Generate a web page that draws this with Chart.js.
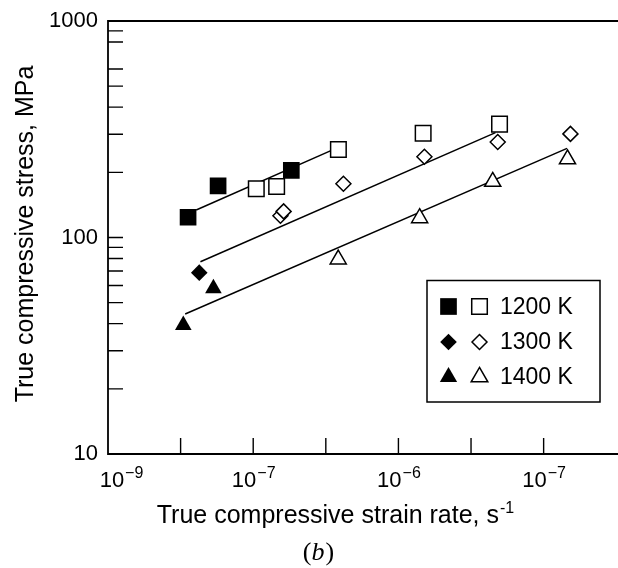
<!DOCTYPE html>
<html>
<head>
<meta charset="utf-8">
<script src="https://cdn.jsdelivr.net/npm/chart.js@4.4.0/dist/chart.umd.min.js"></script>
<style>
  html, body { margin: 0; padding: 0; background: #fff; overflow: hidden; }
  #wrap { width: 640px; height: 568px; }
</style>
</head>
<body>
<div id="wrap"><canvas id="stress-rate" width="640" height="568"></canvas></div>
<script>
// strain rate (s^-1) and stress (MPa) per temperature, filled and open symbols
const filled1200Rate = [3.56e-9, 5.73e-9, 1.83e-8];
const filled1200Stress = [124, 173, 204];
const open1200Rate = [1.05e-8, 1.45e-8, 3.86e-8, 1.48e-7, 4.97e-7];
const open1200Stress = [168, 172, 255, 303, 334];

const filled1300Rate = [4.25e-9];
const filled1300Stress = [68.8];
const open1300Rate = [1.54e-8, 1.62e-8, 4.18e-8, 1.51e-7, 4.83e-7, 1.53e-6];
const open1300Stress = [126, 132, 177, 236, 276, 301];

const filled1400Rate = [3.30e-9, 5.32e-9];
const filled1400Stress = [39.4, 58.2];
const open1400Rate = [3.85e-8, 1.40e-7, 4.46e-7, 1.46e-6];
const open1400Stress = [79.3, 123, 181, 230];

// fitted lines, end points
const fit1200Rate = [4.05e-9, 3.82e-8];
const fit1200Stress = [134, 260];
const fit1300Rate = [4.33e-9, 4.66e-7];
const fit1300Stress = [77.3, 305];
const fit1400Rate = [3.40e-9, 1.45e-6];
const fit1400Stress = [44.3, 258];

const legendLabels = ['1200 K', '1300 K', '1400 K'];

// axis ticks
const yTickValues = [10, 20, 30, 40, 50, 60, 70, 80, 90, 100, 200, 300, 400, 500, 600, 800, 900, 1000];
const yLabelValues = [10, 100, 1000];
const xTickValues = [Math.pow(10, -8.5), 1e-8, Math.pow(10, -7.5), 1e-7, Math.pow(10, -6.5), 1e-6];
const xLabelValues = [1e-9, 1e-8, 1e-7, 1e-6];
const xLabelBase = ['10', '10', '10', '10'];
const xLabelExp = ['\u22129', '\u22127', '\u22126', '\u22127'];

const FONT = '"Liberation Sans", Arial, sans-serif';
Chart.defaults.font.family = FONT;
Chart.defaults.color = '#000';

function pts(xs, ys) {
    return xs.map((x, i) => ({ x: x, y: ys[i] }));
}

function markers(xs, ys, style, radius, open) {
    return {
        data: pts(xs, ys),
        pointStyle: style,
        pointRadius: radius,
        pointHoverRadius: radius,
        pointBackgroundColor: open ? '#fff' : '#000',
        pointBorderColor: '#000',
        pointBorderWidth: open ? 1.5 : 0,
        showLine: false
    };
}

function fitLine(xs, ys) {
    return {
        data: pts(xs, ys),
        showLine: true,
        borderColor: '#000',
        borderWidth: 1.5,
        pointRadius: 0,
        pointHoverRadius: 0,
        fill: false
    };
}

const legendRows = [
    { style: 'rect', filledR: 11.8, openR: 11 },
    { style: 'rectRot', filledR: 8.3, openR: 7.5 },
    { style: 'triangle', filledR: 10, openR: 9.6 }
];

function superText(ctx, base, exp, cx, baseline, size, expSize, rise) {
    ctx.font = size + 'px ' + FONT;
    const wb = ctx.measureText(base).width;
    ctx.font = expSize + 'px ' + FONT;
    const we = ctx.measureText(exp).width;
    const left = cx - (wb + we) / 2;
    ctx.textAlign = 'left';
    ctx.textBaseline = 'alphabetic';
    ctx.font = size + 'px ' + FONT;
    ctx.fillText(base, left, baseline);
    ctx.font = expSize + 'px ' + FONT;
    ctx.fillText(exp, left + wb + 1, baseline - rise);
}

const decorations = {
    id: 'decorations',
    afterDraw(chart) {
        const ctx = chart.ctx;
        const area = chart.chartArea;
        const xs = chart.scales.x;
        const ys = chart.scales.y;
        ctx.save();
        ctx.strokeStyle = '#000';
        ctx.fillStyle = '#000';

        // frame (right side runs off the canvas)
        ctx.lineWidth = 1.8;
        ctx.beginPath();
        ctx.moveTo(chart.width, area.top);
        ctx.lineTo(area.left, area.top);
        ctx.lineTo(area.left, area.bottom);
        ctx.lineTo(chart.width, area.bottom);
        ctx.stroke();

        // inward ticks
        ctx.lineWidth = 1.4;
        ctx.beginPath();
        yTickValues.forEach(v => {
            if (v === 10 || v === 1000) return;
            const y = ys.getPixelForValue(v);
            ctx.moveTo(area.left, y);
            ctx.lineTo(area.left + 15, y);
        });
        xTickValues.forEach(v => {
            const x = xs.getPixelForValue(v);
            ctx.moveTo(x, area.bottom);
            ctx.lineTo(x, area.bottom - 16);
        });
        ctx.stroke();

        // x tick labels with exponents
        xLabelValues.forEach((v, i) => {
            let cx = xs.getPixelForValue(v);
            if (i === 0) cx += 13;
            superText(ctx, xLabelBase[i], xLabelExp[i], cx, area.bottom + 33, 22, 16, 9);
        });

        // axis titles
        superText(ctx, 'True compressive strain rate, s', '-1', 335, 523, 25, 16, 10);
        ctx.save();
        ctx.translate(33, 234);
        ctx.rotate(-Math.PI / 2);
        ctx.font = '25px ' + FONT;
        ctx.textAlign = 'center';
        ctx.textBaseline = 'alphabetic';
        ctx.fillText('True compressive stress, MPa', 0, 0);
        ctx.restore();

        // legend box
        ctx.lineWidth = 1.5;
        ctx.strokeRect(427, 280.5, 173, 121.5);
        const rowY = [306.5, 342, 377];
        legendRows.forEach((row, i) => {
            ctx.fillStyle = '#000';
            ctx.strokeStyle = '#000';
            Chart.helpers.drawPoint(ctx, { pointStyle: row.style, radius: row.filledR, rotation: 0, borderWidth: 0 }, 448.5, rowY[i]);
            ctx.fillStyle = '#fff';
            ctx.lineWidth = 1.5;
            Chart.helpers.drawPoint(ctx, { pointStyle: row.style, radius: row.openR, rotation: 0, borderWidth: 1.5 }, 479.5, rowY[i]);
            ctx.fillStyle = '#000';
            ctx.font = '23px ' + FONT;
            ctx.textAlign = 'left';
            ctx.textBaseline = 'middle';
            ctx.fillText(legendLabels[i], 500, rowY[i] + 1);
        });

        // panel caption "(b)"
        const serif = '"Liberation Serif", "DejaVu Serif", serif';
        const capSize = 26;
        ctx.textBaseline = 'alphabetic';
        ctx.textAlign = 'left';
        ctx.font = capSize + 'px ' + serif;
        const wp = ctx.measureText('(').width;
        ctx.font = 'italic ' + capSize + 'px ' + serif;
        const wbch = ctx.measureText('b').width;
        let cx = 318 - (2 * wp + wbch) / 2;
        ctx.font = capSize + 'px ' + serif;
        ctx.fillText('(', cx, 560);
        ctx.font = 'italic ' + capSize + 'px ' + serif;
        ctx.fillText('b', cx + wp, 560);
        ctx.font = capSize + 'px ' + serif;
        ctx.fillText(')', cx + wp + wbch + 1, 560);
        ctx.restore();
    }
};

new Chart(document.getElementById('stress-rate'), {
    type: 'scatter',
    data: {
        datasets: [
            markers(filled1200Rate, filled1200Stress, 'rect', 11.8, false),
            markers(open1200Rate, open1200Stress, 'rect', 11, true),
            markers(filled1300Rate, filled1300Stress, 'rectRot', 8.3, false),
            markers(open1300Rate, open1300Stress, 'rectRot', 7.5, true),
            markers(filled1400Rate, filled1400Stress, 'triangle', 9.6, false),
            markers(open1400Rate, open1400Stress, 'triangle', 9.3, true),
            fitLine(fit1200Rate, fit1200Stress),
            fitLine(fit1300Rate, fit1300Stress),
            fitLine(fit1400Rate, fit1400Stress)
        ]
    },
    options: {
        responsive: false,
        animation: false,
        devicePixelRatio: 1,
        layout: { padding: { left: 0, top: 21, right: 16.5, bottom: 0 } },
        plugins: {
            legend: { display: false },
            tooltip: { enabled: false }
        },
        scales: {
            x: {
                type: 'logarithmic',
                min: 1e-9,
                max: Math.pow(10, -5.45),
                grid: { display: false },
                border: { display: false },
                ticks: { display: false },
                afterBuildTicks: scale => { scale.ticks = xTickValues.map(v => ({ value: v })); },
                afterFit: scale => { scale.height = 114; }
            },
            y: {
                type: 'logarithmic',
                min: 10,
                max: 1000,
                grid: { display: false },
                border: { display: false },
                ticks: {
                    autoSkip: false,
                    padding: 2,
                    font: { size: 22 },
                    color: '#000',
                    callback: v => yLabelValues.includes(v) ? String(v) : ''
                },
                afterBuildTicks: scale => { scale.ticks = yTickValues.map(v => ({ value: v })); },
                afterFit: scale => { scale.width = 108; }
            }
        }
    },
    plugins: [decorations]
});
</script>
</body>
</html>
